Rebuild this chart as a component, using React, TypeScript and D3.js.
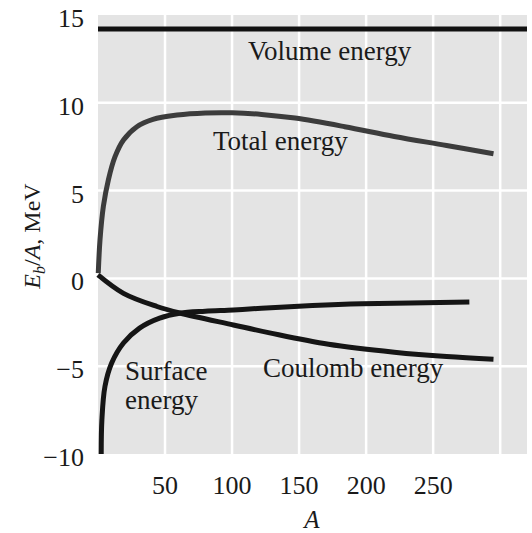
import React from 'react';
import * as d3 from 'd3';

const WIDTH = 532;
const HEIGHT = 533;

const yTicks = [-10, -5, 0, 5, 10, 15];
const xTicks = [50, 100, 150, 200, 250];
const xGrid = [50, 100, 150, 200, 250, 300];

const volumeA = [0, 320];
const volumeE = [14.2, 14.2];

const totalA = [0.2, 1.5, 4, 7.7, 12.7, 19, 29, 41, 59, 80, 100, 122, 147, 184, 221, 260, 295];
const totalE = [0.3, 2.2, 4.1, 5.6, 6.93, 7.88, 8.64, 9.06, 9.3, 9.42, 9.43, 9.34, 9.13, 8.64, 8.08, 7.57, 7.1];

const coulombA = [0, 19, 44, 61, 101, 128, 172, 221, 260, 295];
const coulombE = [0.2, -0.85, -1.6, -1.97, -2.65, -3.1, -3.75, -4.2, -4.45, -4.6];

const surfaceA = [2.4, 2.9, 5.2, 10.2, 19, 31, 46, 61, 80, 101, 122, 160, 197, 277];
const surfaceE = [-10, -8.05, -6.15, -4.82, -3.68, -2.83, -2.26, -1.98, -1.87, -1.8, -1.7, -1.55, -1.45, -1.35];

const FONT = '"Liberation Serif", "DejaVu Serif", serif';

const App = () => {
  const x = d3.scaleLinear().domain([0, 320]).range([98, 527]);
  const y = d3.scaleLinear().domain([-10, 15]).range([454, 15]);

  const line = d3
    .line<[number, number]>()
    .x(d => x(d[0]))
    .y(d => y(d[1]))
    .curve(d3.curveCatmullRom.alpha(0.5));

  const zip = (a: number[], b: number[]) => a.map((v, i) => [v, b[i]] as [number, number]);

  const series = [
    { pts: zip(volumeA, volumeE), color: '#111', w: 5 },
    { pts: zip(totalA, totalE), color: '#3c3c3c', w: 5 },
    { pts: zip(coulombA, coulombE), color: '#151515', w: 5 },
    { pts: zip(surfaceA, surfaceE), color: '#151515', w: 5 },
  ];

  return (
    <svg
      width={WIDTH}
      height={HEIGHT}
      style={{ position: 'absolute', left: 0, top: 0, background: '#fff' }}
      fontFamily={FONT}
    >
      <rect x={x(0)} y={y(15)} width={x(320) - x(0)} height={y(-10) - y(15)} fill="#e4e4e4" />
      {yTicks.slice(1, -1).map(t => (
        <line key={'gy' + t} x1={x(0)} x2={x(320)} y1={y(t)} y2={y(t)} stroke="#fff" strokeWidth={2.5} />
      ))}
      {xGrid.map(t => (
        <line key={'gx' + t} x1={x(t)} x2={x(t)} y1={y(15)} y2={y(-10)} stroke="#fff" strokeWidth={2.5} />
      ))}
      {series.map((s, i) => (
        <path key={i} d={line(s.pts) || ''} fill="none" stroke={s.color} strokeWidth={s.w} />
      ))}
      {yTicks.map(t => (
        <text key={'ty' + t} x={84} y={y(t) + 12} textAnchor="end" fontSize={26} fill="#1a1a1a">
          {t < 0 ? '\u2212' + Math.abs(t) : t}
        </text>
      ))}
      {xTicks.map(t => (
        <text key={'tx' + t} x={x(t)} y={494} textAnchor="middle" fontSize={26} fill="#1a1a1a">
          {t}
        </text>
      ))}
      <text x={312} y={528} textAnchor="middle" fontSize={25} fontStyle="italic" fill="#1a1a1a">
        A
      </text>
      <text transform="translate(40,236) rotate(-90)" textAnchor="middle" fontSize={24} fill="#1a1a1a">
        <tspan fontStyle="italic">E</tspan>
        <tspan fontStyle="italic" fontSize={16} dy={5}>b</tspan>
        <tspan dy={-5}>/</tspan>
        <tspan fontStyle="italic">A</tspan>
        <tspan>, MeV</tspan>
      </text>
      <text x={248} y={60} fontSize={27} fill="#1a1a1a">Volume energy</text>
      <text x={213} y={150} fontSize={27} fill="#1a1a1a">Total energy</text>
      <text x={263} y={377} fontSize={27} fill="#1a1a1a">Coulomb energy</text>
      <text x={125} y={380} fontSize={27} fill="#1a1a1a">Surface</text>
      <text x={125} y={409} fontSize={27} fill="#1a1a1a">energy</text>
    </svg>
  );
};

export default App;
